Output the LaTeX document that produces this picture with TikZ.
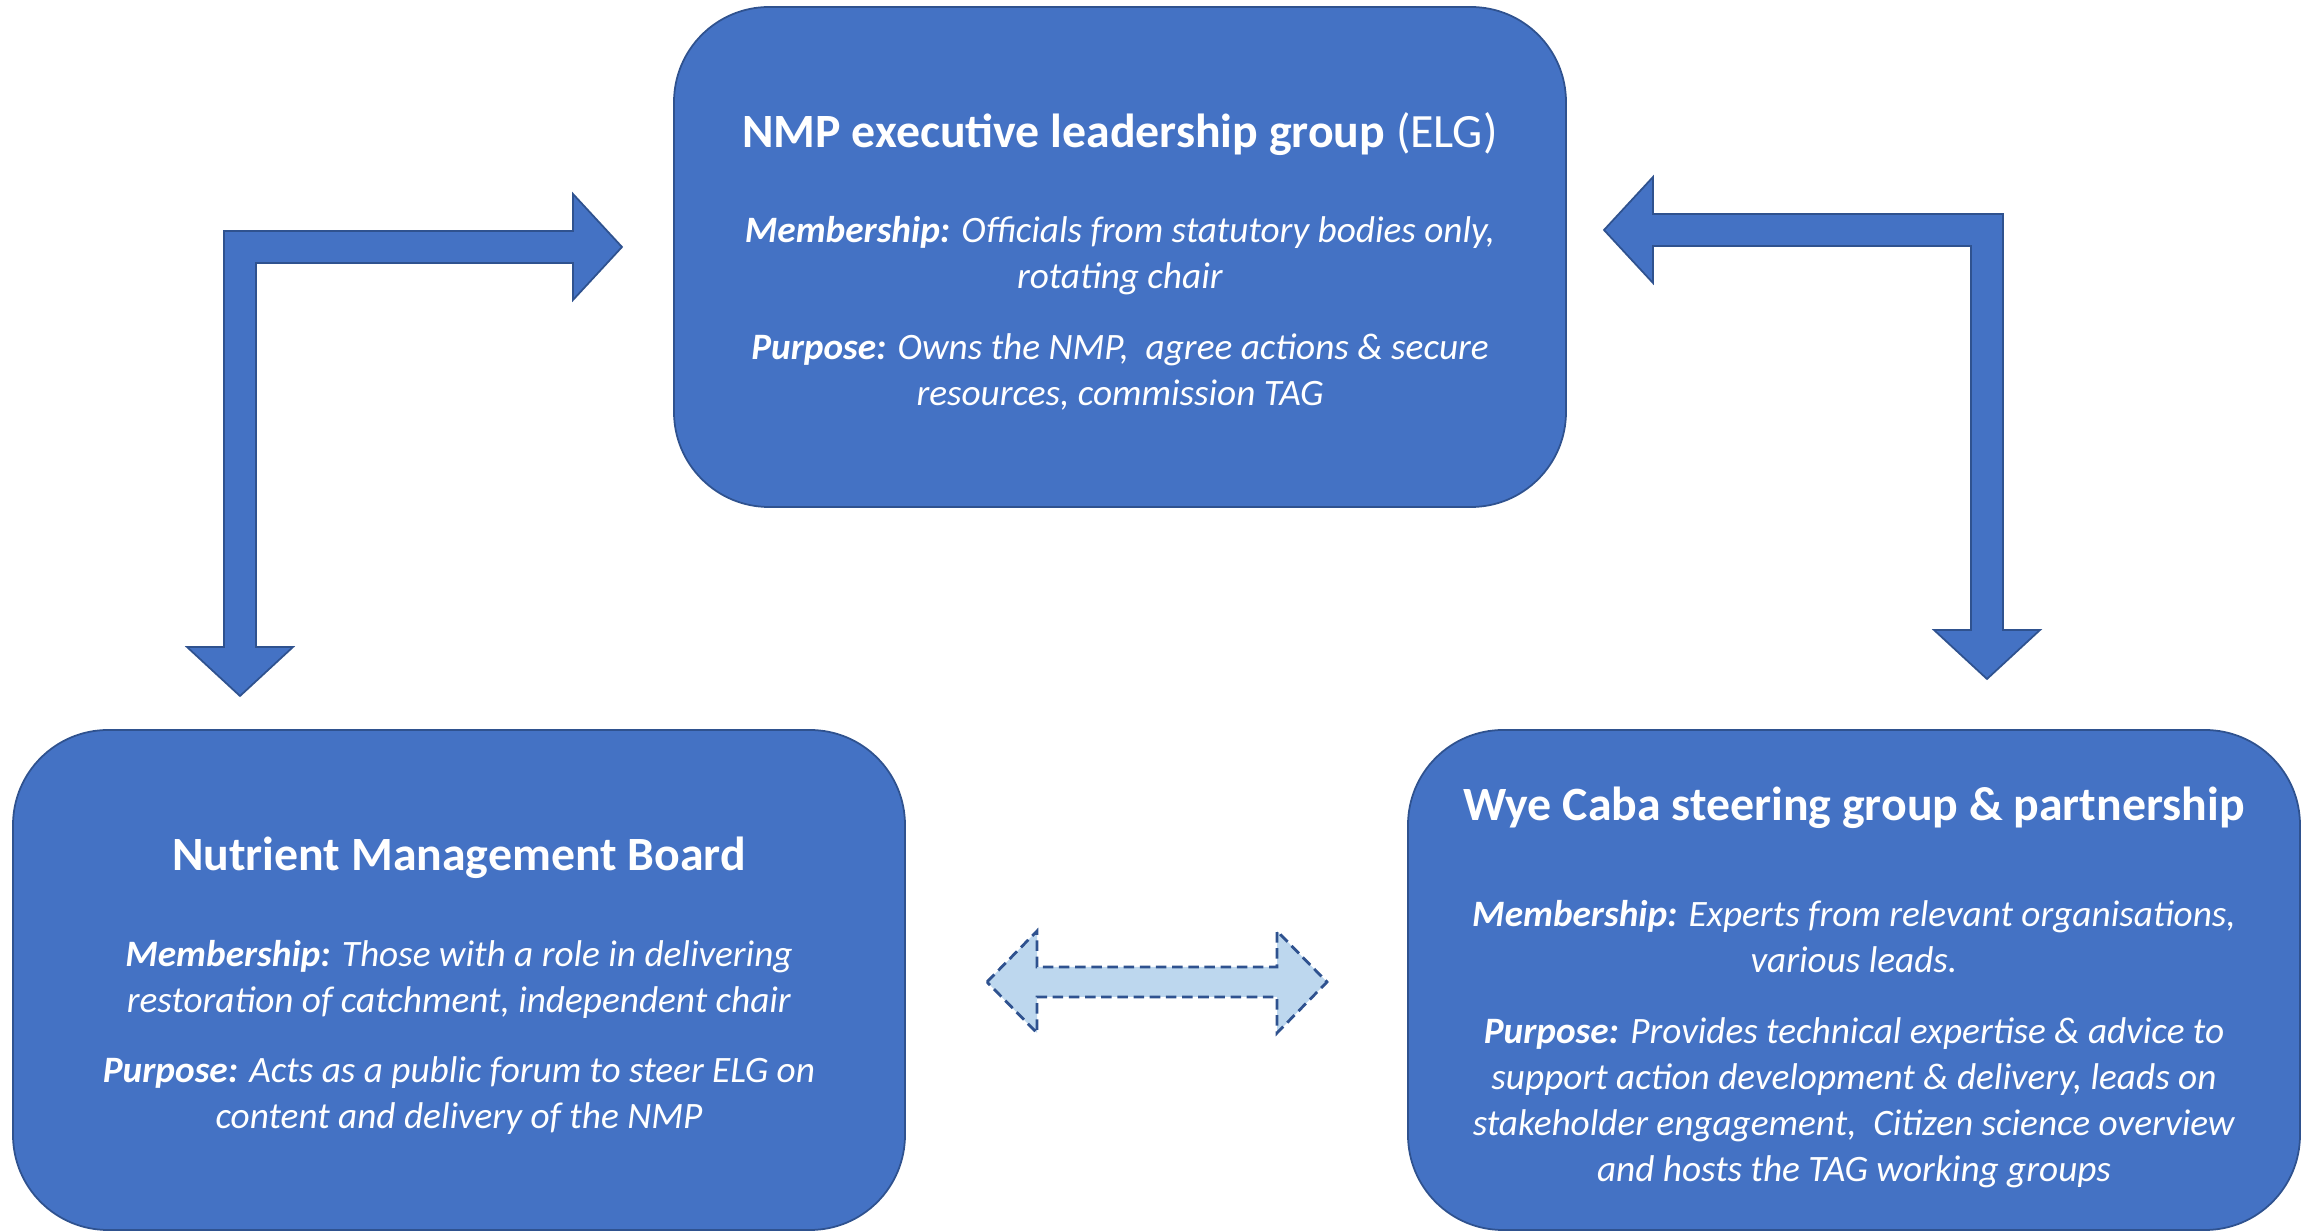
\documentclass[tikz,border=0pt]{standalone}
\usepackage{fontspec}
\setmainfont{Carlito}
\definecolor{boxblue}{HTML}{4472C4}
\definecolor{edgeblue}{HTML}{2F528F}
\definecolor{paleblue}{HTML}{BDD7EE}

\begin{document}
\begin{tikzpicture}[
    groupbox/.style={draw=edgeblue, line width=0.5pt, fill=boxblue, rounded corners=0.95cm,
        minimum width=8.92cm, minimum height=5cm, text=white, align=center,
        font=\fontsize{10.6}{13.1}\selectfont},
    blockarrow/.style={draw=edgeblue, line width=0.5pt, fill=boxblue, line join=miter},
    linkarrow/.style={draw=edgeblue, line width=0.8pt, fill=paleblue, dash pattern=on 3pt off 1.6pt}
]
\useasboundingbox (0,0) rectangle (23.05,12.32);

% the three groups
\node[groupbox] (elg) at (11.2,9.75) {%
    {\fontsize{13.6}{15}\selectfont\rule{0pt}{12.5pt}\textbf{NMP executive leadership group} (ELG)}\\[14pt]
    \textit{\textbf{Membership:} Officials from statutory bodies only,}\\
    \textit{rotating chair}\\[7pt]
    \textit{\textbf{Purpose:} Owns the NMP,\ \ agree actions \& secure}\\
    \textit{resources, commission TAG}};
\node[groupbox] (nmb) at (4.59,2.52) {%
    {\fontsize{13.6}{15}\selectfont\rule{0pt}{13pt}\textbf{Nutrient Management Board}}\\[14pt]
    \textit{\textbf{Membership:} Those with a role in delivering}\\
    \textit{restoration of catchment, independent chair}\\[7pt]
    \textit{\textbf{Purpose:} Acts as a public forum to steer ELG on}\\
    \textit{content and delivery of the NMP}};
\node[groupbox] (wye) at (18.54,2.52) {%
    {\fontsize{13.6}{15}\selectfont\rule{0pt}{13.8pt}\textbf{Wye Caba steering group \& partnership}}\\[17pt]
    \textit{\textbf{Membership:} Experts from relevant organisations,}\\
    \textit{various leads.}\\[7pt]
    \textit{\textbf{Purpose:} Provides technical expertise \& advice to}\\
    \textit{support action development \& delivery, leads on}\\
    \textit{stakeholder engagement,\ \ Citizen science overview}\\
    \textit{and hosts the TAG working groups}};

% ends and bends of the connectors
\coordinate (lTip) at (2.40,5.36);
\coordinate (lBend) at (2.40,9.85);
\coordinate (lEnd) at (6.22,9.85);
\coordinate (rTip) at (19.87,5.53);
\coordinate (rBend) at (19.87,10.02);
\coordinate (rEnd) at (16.04,10.02);
\coordinate (dL) at (9.87,2.50);
\coordinate (dR) at (13.27,2.50);

% nmb <-> elg
\draw[blockarrow] (lTip) -- ([shift={(-0.53,0.49)}]lTip) -- ([shift={(-0.16,0.49)}]lTip)
    -- ([shift={(-0.16,0.16)}]lBend) -- ([shift={(-0.49,0.16)}]lEnd) -- ([shift={(-0.49,0.53)}]lEnd)
    -- (lEnd) -- ([shift={(-0.49,-0.53)}]lEnd) -- ([shift={(-0.49,-0.16)}]lEnd)
    -- ([shift={(0.16,-0.16)}]lBend) -- ([shift={(0.16,0.49)}]lTip) -- ([shift={(0.53,0.49)}]lTip) -- cycle;

% elg <-> wye
\draw[blockarrow] (rEnd) -- ([shift={(0.49,0.53)}]rEnd) -- ([shift={(0.49,0.16)}]rEnd)
    -- ([shift={(0.16,0.16)}]rBend) -- ([shift={(0.16,0.49)}]rTip) -- ([shift={(0.53,0.49)}]rTip)
    -- (rTip) -- ([shift={(-0.53,0.49)}]rTip) -- ([shift={(-0.16,0.49)}]rTip)
    -- ([shift={(-0.16,-0.16)}]rBend) -- ([shift={(0.49,-0.16)}]rEnd) -- ([shift={(0.49,-0.53)}]rEnd) -- cycle;

% nmb <-> wye
\draw[linkarrow] (dL) -- ([shift={(0.5,0.51)}]dL) -- ([shift={(0.5,0.15)}]dL)
    -- ([shift={(-0.5,0.15)}]dR) -- ([shift={(-0.5,0.51)}]dR) -- (dR)
    -- ([shift={(-0.5,-0.51)}]dR) -- ([shift={(-0.5,-0.15)}]dR)
    -- ([shift={(0.5,-0.15)}]dL) -- ([shift={(0.5,-0.51)}]dL) -- cycle;
\end{tikzpicture}
\end{document}
